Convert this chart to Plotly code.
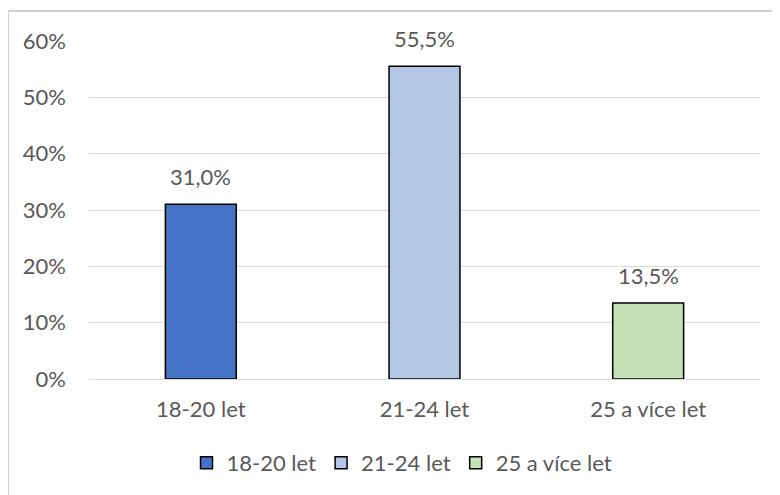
import plotly.graph_objects as go

categories = ['18-20 let', '21-24 let', '25 a více let']
values = [0.310, 0.555, 0.135]
colors = ['#4472C4', '#B4C7E7', '#C5E0B4']

fig = go.Figure()

for cat, val, col in zip(categories, values, colors):
    fig.add_trace(go.Bar(
        x=[cat],
        y=[val],
        name=cat,
        marker=dict(color=col, line=dict(color='#000000', width=1.5)),
        width=0.317,
    ))
    # value label a bit above the bar (Excel-like gap)
    fig.add_annotation(x=cat, y=val, text=f"{val * 100:.1f}%".replace('.', ','),
                       showarrow=False, yanchor='bottom', yshift=12,
                       font=dict(size=22, color='#595959'))

# chart frame (partly outside the window, like the source image)
fig.add_shape(type='rect', xref='paper', yref='paper',
              x0=-0.1207, x1=1.05, y0=-0.38, y1=1.0888,
              line=dict(color='#D0D0D0', width=2))

# the page body has an 8px margin, margins are set to compensate
fig.update_layout(
    width=780,
    height=495,
    margin=dict(l=81, r=28, t=33, b=124, autoexpand=False),
    plot_bgcolor='white',
    paper_bgcolor='white',
    font=dict(family='Lato, Open Sans, sans-serif', size=22, color='#595959'),
    barmode='overlay',
    showlegend=True,
    legend=dict(orientation='h', xanchor='center', x=0.4665, yanchor='middle', y=-0.2485,
                font=dict(size=22, color='#595959'), itemwidth=30),
    xaxis=dict(showgrid=False, showline=False, ticks='', tickfont=dict(size=22),
               ticklabelstandoff=15, automargin=False),
    yaxis=dict(range=[0, 0.6], dtick=0.1, tickformat='.0%', showgrid=True,
               gridcolor='#D9D9D9', gridwidth=1, zeroline=True, zerolinecolor='#D9D9D9',
               zerolinewidth=1, ticks='', ticklabelstandoff=22, tickfont=dict(size=22),
               automargin=False),
)

fig.write_html("out.html")
